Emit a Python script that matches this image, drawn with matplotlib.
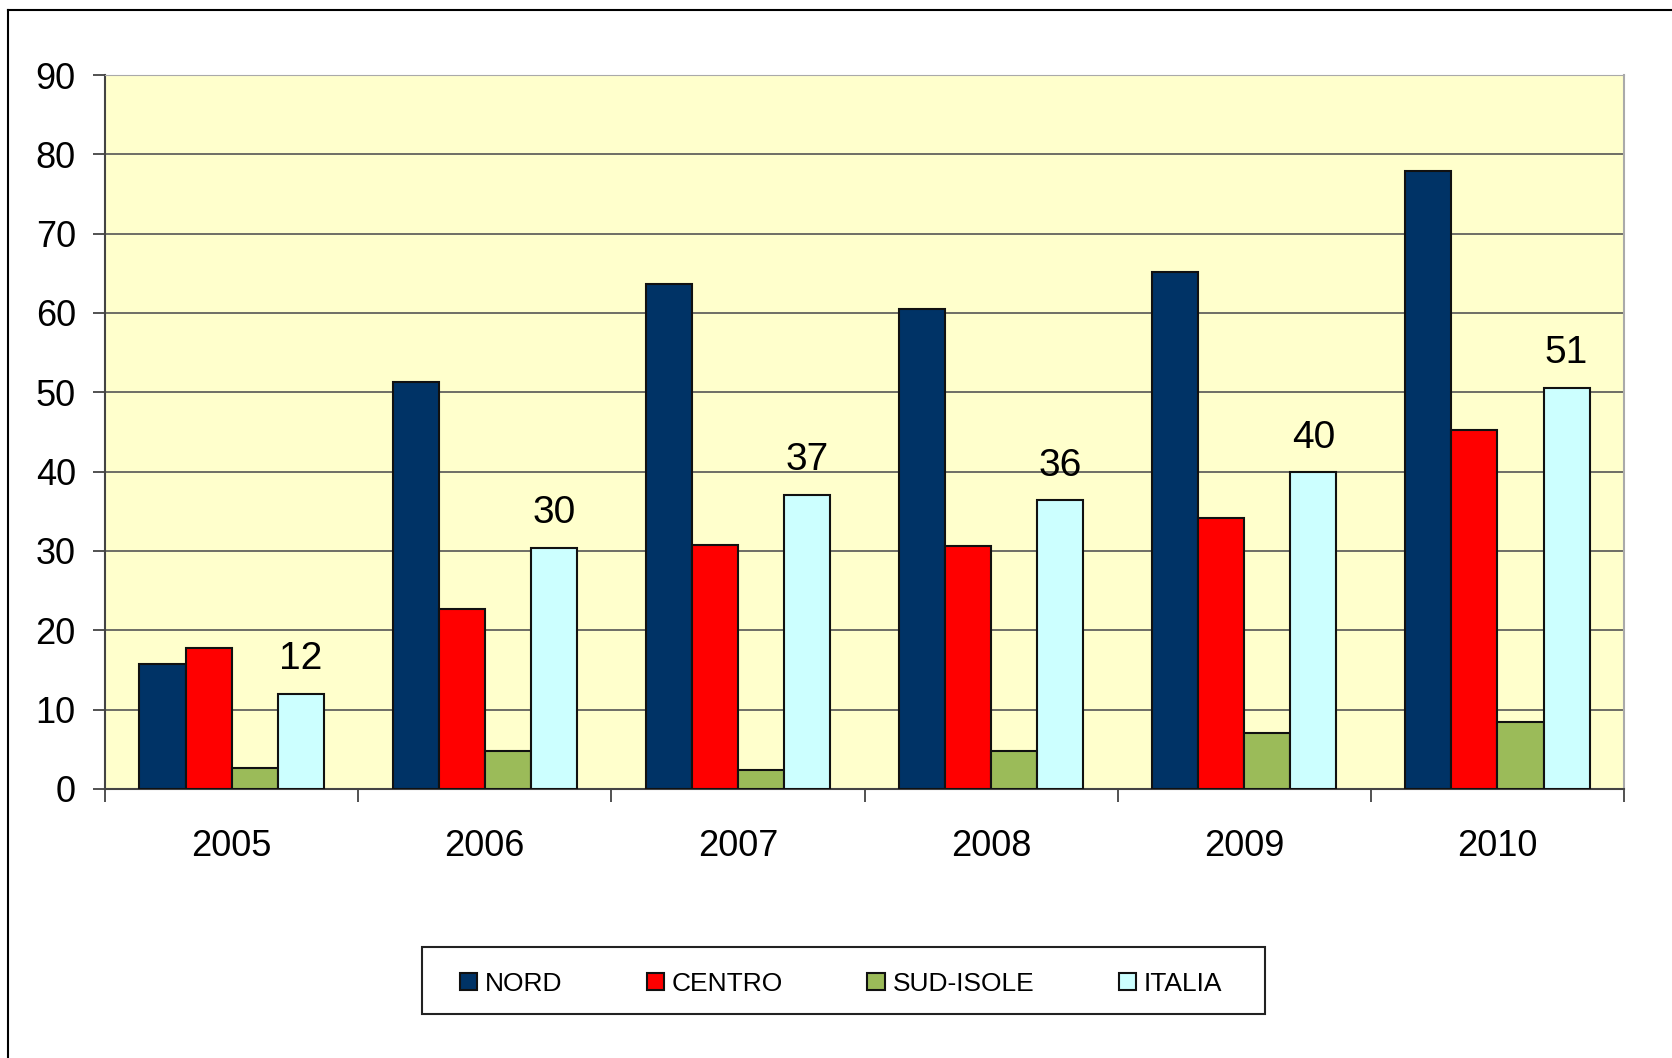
import numpy as np
import matplotlib
matplotlib.use("Agg")
import matplotlib.pyplot as plt
from matplotlib.patches import Rectangle
from matplotlib.lines import Line2D

plt.rcParams['font.family'] = ['Liberation Sans', 'DejaVu Sans']

years = ['2005', '2006', '2007', '2008', '2009', '2010']
nord = [15.7, 51.3, 63.7, 60.5, 65.2, 77.9]
centro = [17.8, 22.7, 30.8, 30.6, 34.1, 45.3]
sud_isole = [2.7, 4.8, 2.4, 4.8, 7.1, 8.5]
italia = [12.0, 30.4, 37.1, 36.4, 39.9, 50.6]
italia_labels = ['12', '30', '37', '36', '40', '51']

series = [('NORD', nord, '#003366'),
          ('CENTRO', centro, '#FF0000'),
          ('SUD-ISOLE', sud_isole, '#9BBB59'),
          ('ITALIA', italia, '#CCFFFF')]

fig = plt.figure(figsize=(16.72, 10.58), dpi=100)
ax = fig.add_axes([0.0628, 0.2543, 0.9085, 0.6748])
ax.set_facecolor('#FFFFCC')

x = np.arange(len(years))
w = 0.182
for i, (name, vals, col) in enumerate(series):
    bars = ax.bar(x + (i - 1.5) * w, vals, w, color=col, edgecolor='#111111',
                  linewidth=1.5, label=name, zorder=3)
    if name == 'ITALIA':
        for b, lab in zip(bars, italia_labels):
            ax.annotate(lab, (b.get_x() + b.get_width() / 2, b.get_height()),
                        xytext=(0, 12), textcoords='offset points',
                        ha='center', va='bottom', fontsize=28, zorder=4)

ax.set_xlim(-0.5, 5.5)
ax.set_ylim(0, 90)
ax.set_yticks(range(0, 91, 10))
ax.yaxis.grid(True, color='#555555', linewidth=1.2, zorder=1)
ax.set_xticks(x)
ax.set_xticklabels(years)
ax.set_xticks(np.arange(-0.5, 6.0, 1.0), minor=True)
ax.tick_params(axis='x', which='major', length=0, pad=29, labelsize=26)
ax.tick_params(axis='x', which='minor', length=9, width=1.2, color='#333333', direction='out')
ax.tick_params(axis='y', length=9, width=1.2, color='#333333', pad=12, labelsize=26)

for s in ['left', 'bottom']:
    ax.spines[s].set_color('#444444')
    ax.spines[s].set_linewidth(1.5)
ax.spines['top'].set_color('#aaaaaa')
ax.spines['right'].set_color('#aaaaaa')
ax.spines['right'].set_linewidth(1.5)

# outer frame (left and top only)
fig.add_artist(Line2D([0.005, 0.005], [0, 0.9905], color='black', linewidth=1.5,
                      transform=fig.transFigure))
fig.add_artist(Line2D([0.005, 1.0], [0.9905, 0.9905], color='black', linewidth=1.5,
                      transform=fig.transFigure))

# legend box
fig.add_artist(Rectangle((0.2524, 0.0416), 0.5042, 0.0633, transform=fig.transFigure,
                         facecolor='white', edgecolor='#222222', linewidth=1.5))
leg = fig.legend(loc='center', bbox_to_anchor=(0.503, 0.0700), ncol=4, frameon=False,
                 fontsize=19, handlelength=0.65, handleheight=0.65,
                 handletextpad=0.3, columnspacing=3.2)

fig.savefig('out.png', dpi=100, facecolor='white')
